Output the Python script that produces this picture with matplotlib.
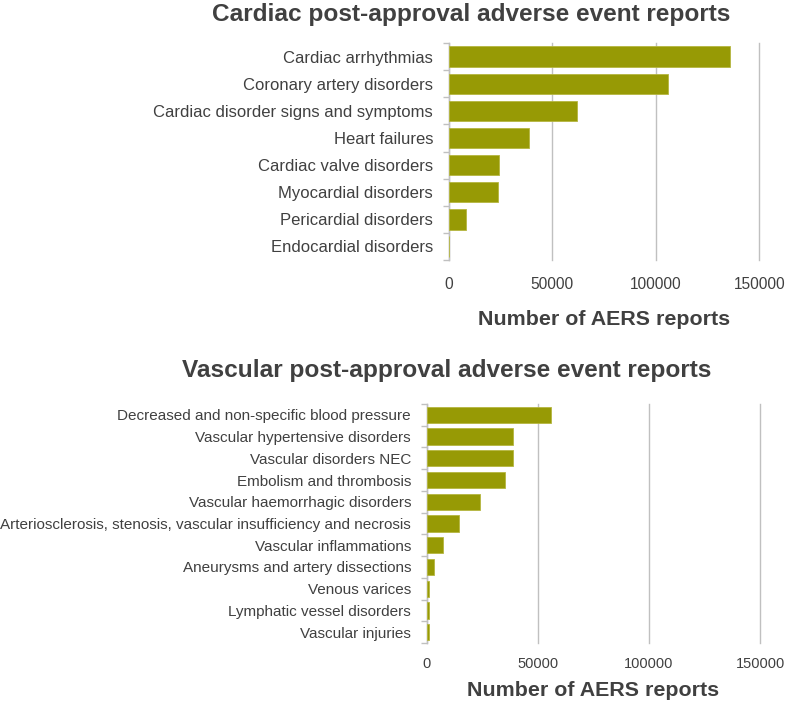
import numpy as np
from matplotlib import pyplot as plt

plt.rcParams['font.family'] = ['Liberation Sans', 'DejaVu Sans']

cardiac_labels = ['Cardiac arrhythmias', 'Coronary artery disorders',
                  'Cardiac disorder signs and symptoms', 'Heart failures',
                  'Cardiac valve disorders', 'Myocardial disorders',
                  'Pericardial disorders', 'Endocardial disorders']
cardiac_values = [136000, 106000, 62000, 38800, 24200, 23800, 8200, 0]

vascular_labels = ['Decreased and non-specific blood pressure',
                   'Vascular hypertensive disorders', 'Vascular disorders NEC',
                   'Embolism and thrombosis', 'Vascular haemorrhagic disorders',
                   'Arteriosclerosis, stenosis, vascular insufficiency and necrosis',
                   'Vascular inflammations', 'Aneurysms and artery dissections',
                   'Venous varices', 'Lymphatic vessel disorders', 'Vascular injuries']
vascular_values = [56000, 38900, 38600, 35100, 23900, 14400, 7200, 3200, 900, 900, 800]

xticks = [0, 50000, 100000, 150000]

txt = '#404040'
grid = '#c0c0c0'
bar_col = '#979a05'

fig = plt.figure(figsize=(7.86, 7.02), dpi=100)


def draw(ax, labels, values, lab_fs, tick_fs, xpad):
    n = len(labels)
    y = np.arange(n)
    ax.barh(y, values, height=0.75, color=bar_col, edgecolor='#b5b640', linewidth=0.6, zorder=3)
    ax.set_ylim(n - 0.5, -0.5)
    ax.set_xlim(0, 150000)
    ax.set_xticks(xticks)
    ax.set_xticklabels([str(v) for v in xticks], color=txt, fontsize=tick_fs)
    ax.set_yticks(y)
    ax.set_yticklabels(labels, color=txt, fontsize=lab_fs)
    ax.set_yticks(np.arange(n + 1) - 0.5, minor=True)
    ax.tick_params(axis='y', which='major', length=0, pad=11.3)
    ax.tick_params(axis='y', which='minor', length=4, color=grid, width=1)
    ax.tick_params(axis='x', length=0, pad=xpad)
    for s in ['top', 'right', 'bottom']:
        ax.spines[s].set_visible(False)
    ax.spines['left'].set_color(grid)
    ax.spines['left'].set_linewidth(1)
    ax.grid(axis='x', color=grid, linewidth=1, zorder=0)
    for gl in ax.xaxis.get_gridlines():
        gl.set_clip_on(False)
    ax.set_axisbelow(True)


ax1 = fig.add_axes([0.571, 0.6296, 0.395, 0.309])
draw(ax1, cardiac_labels, cardiac_values, 12, 11.2, 12.5)
ax1.set_xlabel('Number of AERS reports', fontsize=15.4, fontweight='bold', color=txt, labelpad=13)
fig.text(471 / 786, 1 - 14 / 702, 'Cardiac post-approval adverse event reports',
         ha='center', va='center', fontsize=17.6, fontweight='bold', color=txt)

ax2 = fig.add_axes([0.543, 0.084, 0.424, 0.3405])
draw(ax2, vascular_labels, vascular_values, 11, 10.5, 10)
ax2.set_xlabel('Number of AERS reports', fontsize=15.4, fontweight='bold', color=txt, labelpad=7)
fig.text(447 / 786, 1 - 370 / 702, 'Vascular post-approval adverse event reports',
         ha='center', va='center', fontsize=17.6, fontweight='bold', color=txt)

fig.savefig('out.png', dpi=100)
